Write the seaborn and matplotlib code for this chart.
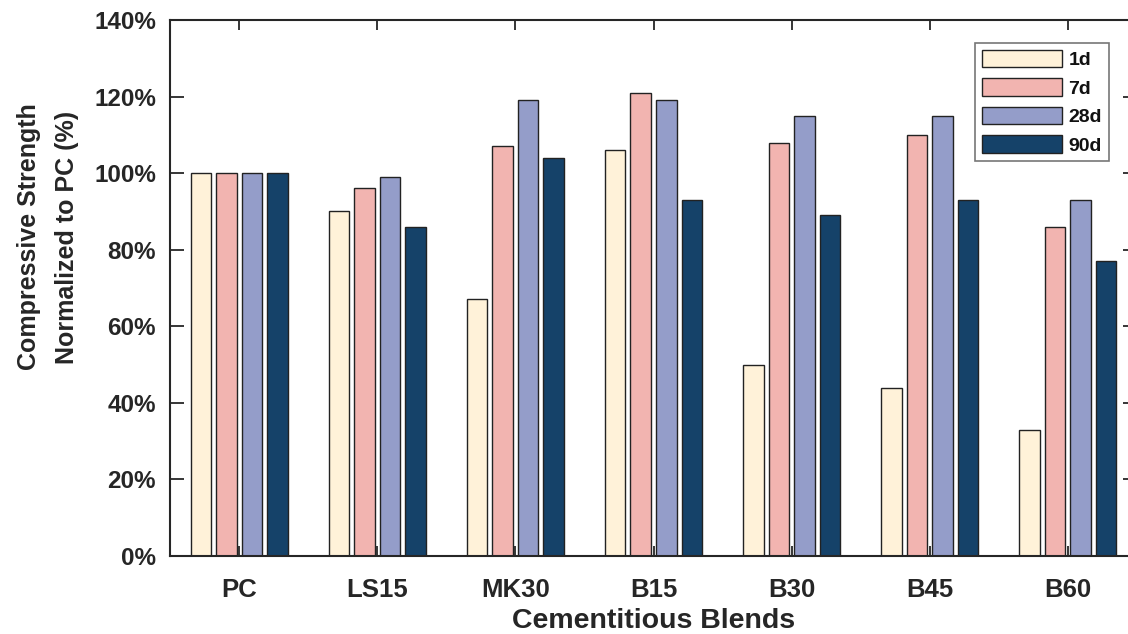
import matplotlib
matplotlib.use("Agg")
import matplotlib.pyplot as plt
import seaborn as sns
import pandas as pd
from matplotlib.ticker import FuncFormatter, MultipleLocator

blends = ["PC", "LS15", "MK30", "B15", "B30", "B45", "B60"]
ages = ["1d", "7d", "28d", "90d"]
v_1d = [100, 90, 67, 106, 50, 44, 33]
v_7d = [100, 96, 107, 121, 108, 110, 86]
v_28d = [100, 99, 119, 119, 115, 115, 93]
v_90d = [100, 86, 104, 93, 89, 93, 77]
colors = ["#FFF2D9", "#F2B4B0", "#949DC9", "#154269"]

rows = []
for age, vals in zip(ages, [v_1d, v_7d, v_28d, v_90d]):
    for b, v in zip(blends, vals):
        rows.append({"Blend": b, "Age": age, "Value": v})
df = pd.DataFrame(rows)

sns.set_theme(style="white")
plt.rcParams["font.family"] = ["Liberation Sans", "DejaVu Sans"]
plt.rcParams["font.weight"] = "bold"

fig = plt.figure(figsize=(11.28, 6.34), dpi=100)
ax = fig.add_axes([170/1128, 78/634, (1137-170)/1128, (556-20)/634])

sns.barplot(data=df, x="Blend", y="Value", hue="Age", order=blends, hue_order=ages,
            palette=colors, width=0.74, gap=0.2, edgecolor="#222222", linewidth=1.0,
            saturation=1, errorbar=None, ax=ax)

ax.set_xlim(-0.5, 6.5)
ax.set_ylim(0, 140)
ax.yaxis.set_major_locator(MultipleLocator(20))
ax.yaxis.set_major_formatter(FuncFormatter(lambda v, p: f"{v:.0f}%"))

for s in ax.spines.values():
    s.set_visible(True)
    s.set_color("#262626")
    s.set_linewidth(1.5)

ax.tick_params(axis="y", which="both", direction="in", length=10, width=1.3, color="#262626",
               left=True, right=True, labelsize=17.5, labelcolor="#262626", pad=10)
ax.tick_params(axis="x", direction="in", length=7, width=1.3, color="#262626",
               bottom=True, top=True, labelsize=18.5, labelcolor="#262626", pad=16)
for lab in ax.get_xticklabels() + ax.get_yticklabels():
    lab.set_fontweight("bold")

ax.set_xlabel("Cementitious Blends", fontsize=20.5, fontweight="bold", color="#262626", labelpad=4)
ax.set_ylabel("Compressive Strength\nNormalized to PC (%)", fontsize=18, fontweight="bold",
              color="#262626", linespacing=1.75)
ax.yaxis.set_label_coords((79 - 170) / 967, (556 - 237) / 536)

leg = ax.legend(loc="upper left", bbox_to_anchor=((975-170)/967, 1 - (43-20)/536),
                frameon=True, fancybox=False, edgecolor="#555555", fontsize=14,
                handlelength=4.1, handleheight=1.0, labelspacing=0.47, handletextpad=0.35,
                borderpad=0.35, borderaxespad=0)
for t in leg.get_texts():
    t.set_fontweight("bold")
    t.set_color("#111111")
leg.get_frame().set_linewidth(1.2)

fig.savefig("out.png", dpi=100)
